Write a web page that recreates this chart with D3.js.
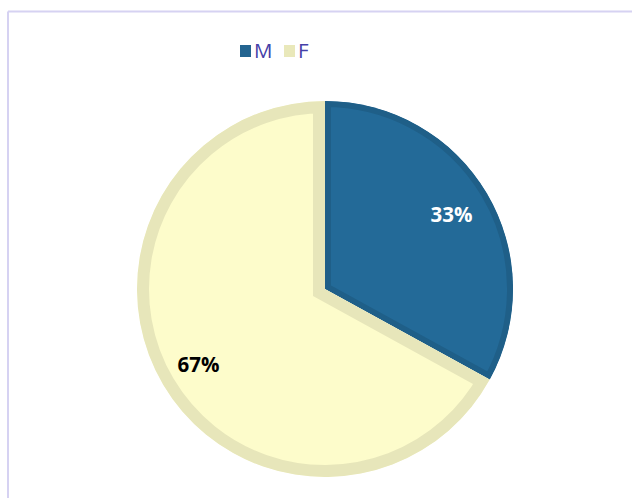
<!DOCTYPE html>
<html>
<head>
<meta charset="utf-8">
<script src="https://cdn.jsdelivr.net/npm/d3@7/dist/d3.min.js"></script>
<style>
  html, body { margin: 0; padding: 0; background: #ffffff; }
  svg { display: block; }
</style>
</head>
<body>
<svg id="chart" width="632" height="498"></svg>
<script>
// ---- data ----
const categories = ["M", "F"];
const values = [33, 67];
const labels = ["33%", "67%"];
const fillColors = ["#236a98", "#fdfccb"];
const borderColors = ["#1f5f88", "#e7e6ba"];
const swatchColors = ["#236490", "#e9e8ba"];
const labelColors = ["#ffffff", "#000000"];

const svg = d3.select("#chart");
const W = 632, H = 498;

// outer chart frame (lavender)
svg.append("line").attr("x1", 8).attr("y1", 11.5).attr("x2", W).attr("y2", 11.5)
  .attr("stroke", "#d6d2f2").attr("stroke-width", 2);
svg.append("line").attr("x1", 8).attr("y1", 11.5).attr("x2", 8).attr("y2", H)
  .attr("stroke", "#d6d2f2").attr("stroke-width", 2);

// legend
const legend = svg.append("g").attr("class", "legend");
const legendX = [240, 284];
categories.forEach((c, i) => {
  const g = legend.append("g").attr("transform", `translate(${legendX[i]},0)`);
  g.append("rect").attr("x", 0).attr("y", 45).attr("width", 11).attr("height", 12)
    .attr("fill", swatchColors[i]);
  g.append("text").attr("x", 14).attr("y", 57.5)
    .attr("font-family", "'Open Sans', 'Liberation Sans', sans-serif")
    .attr("font-size", 20.5)
    .attr("fill", "#4540a8")
    .text(c);
});

// pie
const cx = 325, cy = 289, R = 188;
const pie = d3.pie().sort(null).value(d => d);
const arcs = pie(values);
const arc = d3.arc().innerRadius(0).outerRadius(R);
const labelArc = d3.arc().innerRadius(147).outerRadius(147);
const innerBorder = [6, 12];

const gPie = svg.append("g").attr("transform", `translate(${cx},${cy})`);
const defs = svg.append("defs");

arcs.forEach((a, i) => {
  const id = "clip" + i;
  defs.append("clipPath").attr("id", id).append("path").attr("d", arc(a));
  gPie.append("path")
    .attr("d", arc(a))
    .attr("fill", fillColors[i])
    .attr("stroke", borderColors[i])
    .attr("stroke-width", innerBorder[i] * 2)
    .attr("stroke-linejoin", "miter")
    .attr("clip-path", `url(#${id})`);
});

arcs.forEach((a, i) => {
  const [lx, ly] = labelArc.centroid(a);
  gPie.append("text")
    .attr("x", lx).attr("y", ly)
    .attr("text-anchor", "middle")
    .attr("dominant-baseline", "central")
    .attr("font-family", "'Open Sans', 'Liberation Sans', sans-serif")
    .attr("font-weight", "bold")
    .attr("font-size", 20.5)
    .attr("fill", labelColors[i])
    .text(labels[i]);
});
</script>
</body>
</html>
